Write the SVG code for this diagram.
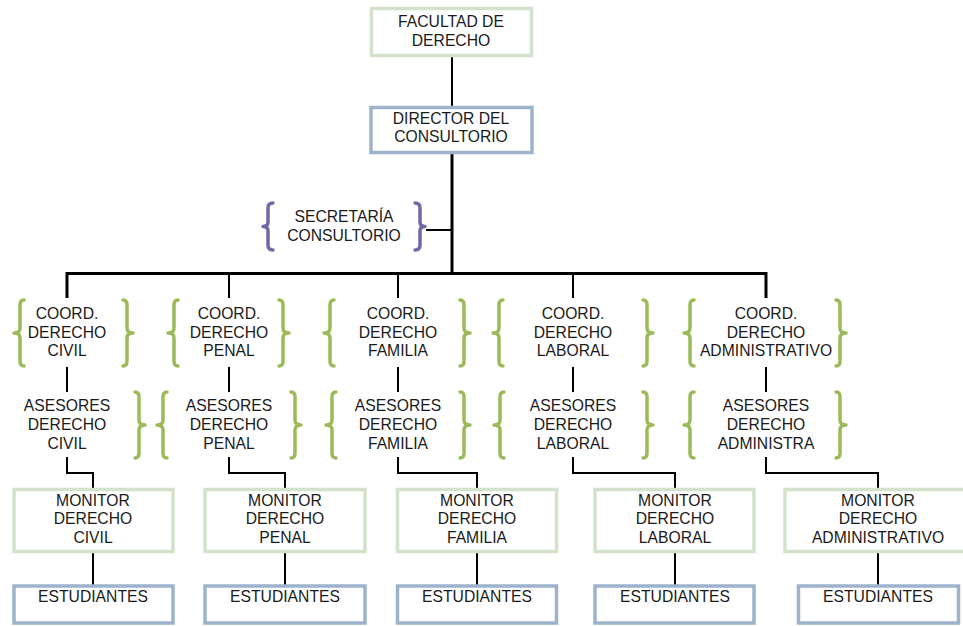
<svg xmlns="http://www.w3.org/2000/svg" xmlns:xlink="http://www.w3.org/1999/xlink" width="963" height="626" viewBox="0 0 963 626">
  <style>
    text { font-family: "Liberation Sans", Arial, sans-serif; font-size: 15.7px; fill: #1a1a1a; text-anchor: middle; }
    .green { fill: #ffffff; stroke: #d5e2cb; stroke-width: 3.5; }
    .blue { fill: #ffffff; stroke: #9db2cd; stroke-width: 3.5; }
    .brace-g { fill: none; stroke: #9bbb59; stroke-width: 3.5; stroke-linecap: round; stroke-linejoin: round; }
    .brace-p { fill: none; stroke: #6f6aa6; stroke-width: 3.5; stroke-linecap: round; stroke-linejoin: round; }
    .link { fill: none; stroke: #000000; stroke-width: 2; }
    .trunk { fill: none; stroke: #000000; stroke-width: 3; }
  </style>
  <defs>
    <!-- curly braces, origin at the tip, 66px tall -->
    <path id="braceL" d="M11,0 Q7,0 7,5 L7,28 Q7,33 1,33 Q7,33 7,38 L7,61 Q7,66 11,66"/>
    <path id="braceR" d="M-11,0 Q-7,0 -7,5 L-7,28 Q-7,33 -1,33 Q-7,33 -7,38 L-7,61 Q-7,66 -11,66"/>
    <!-- shorter braces, 47px tall -->
    <path id="braceLs" d="M11,0 Q6,0 6,5 L6,19 Q6,23.5 1,23.5 Q6,23.5 6,28 L6,42 Q6,47 11,47"/>
    <path id="braceRs" d="M-11,0 Q-6,0 -6,5 L-6,19 Q-6,23.5 -1,23.5 Q-6,23.5 -6,28 L-6,42 Q-6,47 -11,47"/>
  </defs>

  <!-- connectors -->
  <g id="connectors">
    <line class="link" x1="452" y1="55" x2="452" y2="108"/>
    <line class="trunk" x1="452" y1="152" x2="452" y2="275"/>
    <line class="link" x1="426" y1="230" x2="452" y2="230"/>
    <polyline class="trunk" points="67,298 67,273.5 766,273.5 766,298"/>
    <line class="link" x1="229" y1="273" x2="229" y2="298"/>
    <line class="link" x1="398" y1="273" x2="398" y2="298"/>
    <line class="link" x1="573" y1="273" x2="573" y2="298"/>
    <!-- coordinator to advisors -->
    <line class="link" x1="67" y1="367" x2="67" y2="392"/>
    <line class="link" x1="229" y1="367" x2="229" y2="392"/>
    <line class="link" x1="398" y1="367" x2="398" y2="392"/>
    <line class="link" x1="573" y1="367" x2="573" y2="392"/>
    <line class="link" x1="766" y1="367" x2="766" y2="392"/>
    <!-- advisors to monitors -->
    <polyline class="link" points="67,457 67,473 93,473 93,489"/>
    <polyline class="link" points="229,457 229,473 285,473 285,489"/>
    <polyline class="link" points="398,457 398,473 477,473 477,489"/>
    <polyline class="link" points="573,457 573,473 675,473 675,489"/>
    <polyline class="link" points="766,457 766,473 878,473 878,489"/>
    <!-- monitors to students -->
    <line class="link" x1="93" y1="552" x2="93" y2="586"/>
    <line class="link" x1="285" y1="552" x2="285" y2="586"/>
    <line class="link" x1="477" y1="552" x2="477" y2="586"/>
    <line class="link" x1="675" y1="552" x2="675" y2="586"/>
    <line class="link" x1="878" y1="552" x2="878" y2="586"/>
  </g>

  <g id="facultad">
    <rect class="green" x="371.5" y="8.5" width="160" height="47"/>
    <text x="451" y="27">FACULTAD DE</text>
    <text x="451" y="45.5">DERECHO</text>
  </g>

  <g id="director">
    <rect class="blue" x="371" y="107.5" width="161" height="45"/>
    <text x="451" y="123.5">DIRECTOR DEL</text>
    <text x="451" y="142">CONSULTORIO</text>
  </g>

  <g id="secretaria">
    <use xlink:href="#braceLs" class="brace-p" transform="translate(262,203)"/>
    <use xlink:href="#braceRs" class="brace-p" transform="translate(426,203)"/>
    <text x="344" y="222">SECRETARÍA</text>
    <text x="344" y="241">CONSULTORIO</text>
  </g>

  <!-- coordinators -->
  <g id="coord-civil">
    <use xlink:href="#braceL" class="brace-g" transform="translate(13,300)"/>
    <use xlink:href="#braceR" class="brace-g" transform="translate(134,300)"/>
    <text x="67" y="319">COORD.</text>
    <text x="67" y="337.5">DERECHO</text>
    <text x="67" y="356">CIVIL</text>
  </g>
  <g id="coord-penal">
    <use xlink:href="#braceL" class="brace-g" transform="translate(167,300)"/>
    <use xlink:href="#braceR" class="brace-g" transform="translate(290,300)"/>
    <text x="229" y="319">COORD.</text>
    <text x="229" y="337.5">DERECHO</text>
    <text x="229" y="356">PENAL</text>
  </g>
  <g id="coord-familia">
    <use xlink:href="#braceL" class="brace-g" transform="translate(323,300)"/>
    <use xlink:href="#braceR" class="brace-g" transform="translate(471,300)"/>
    <text x="398" y="319">COORD.</text>
    <text x="398" y="337.5">DERECHO</text>
    <text x="398" y="356">FAMILIA</text>
  </g>
  <g id="coord-laboral">
    <use xlink:href="#braceL" class="brace-g" transform="translate(492,300)"/>
    <use xlink:href="#braceR" class="brace-g" transform="translate(654,300)"/>
    <text x="573" y="319">COORD.</text>
    <text x="573" y="337.5">DERECHO</text>
    <text x="573" y="356">LABORAL</text>
  </g>
  <g id="coord-administrativo">
    <use xlink:href="#braceL" class="brace-g" transform="translate(683,300)"/>
    <use xlink:href="#braceR" class="brace-g" transform="translate(847,300)"/>
    <text x="766" y="319">COORD.</text>
    <text x="766" y="337.5">DERECHO</text>
    <text x="766" y="356">ADMINISTRATIVO</text>
  </g>

  <!-- advisors -->
  <g id="asesores-civil">
    <use xlink:href="#braceR" class="brace-g" transform="translate(146,392)"/>
    <text x="67" y="411">ASESORES</text>
    <text x="67" y="430">DERECHO</text>
    <text x="67" y="448.5">CIVIL</text>
  </g>
  <g id="asesores-penal">
    <use xlink:href="#braceL" class="brace-g" transform="translate(156,392)"/>
    <use xlink:href="#braceR" class="brace-g" transform="translate(302,392)"/>
    <text x="229" y="411">ASESORES</text>
    <text x="229" y="430">DERECHO</text>
    <text x="229" y="448.5">PENAL</text>
  </g>
  <g id="asesores-familia">
    <use xlink:href="#braceL" class="brace-g" transform="translate(325,392)"/>
    <use xlink:href="#braceR" class="brace-g" transform="translate(471,392)"/>
    <text x="398" y="411">ASESORES</text>
    <text x="398" y="430">DERECHO</text>
    <text x="398" y="448.5">FAMILIA</text>
  </g>
  <g id="asesores-laboral">
    <use xlink:href="#braceL" class="brace-g" transform="translate(493,392)"/>
    <use xlink:href="#braceR" class="brace-g" transform="translate(654,392)"/>
    <text x="573" y="411">ASESORES</text>
    <text x="573" y="430">DERECHO</text>
    <text x="573" y="448.5">LABORAL</text>
  </g>
  <g id="asesores-administrativo">
    <use xlink:href="#braceL" class="brace-g" transform="translate(683,392)"/>
    <use xlink:href="#braceR" class="brace-g" transform="translate(847,392)"/>
    <text x="766" y="411">ASESORES</text>
    <text x="766" y="430">DERECHO</text>
    <text x="766" y="448.5">ADMINISTRA</text>
  </g>

  <!-- monitors -->
  <g id="monitor-civil">
    <rect class="green" x="14" y="489.5" width="159" height="62"/>
    <text x="93" y="506">MONITOR</text>
    <text x="93" y="524">DERECHO</text>
    <text x="93" y="543">CIVIL</text>
  </g>
  <g id="monitor-penal">
    <rect class="green" x="205" y="489.5" width="160" height="62"/>
    <text x="285" y="506">MONITOR</text>
    <text x="285" y="524">DERECHO</text>
    <text x="285" y="543">PENAL</text>
  </g>
  <g id="monitor-familia">
    <rect class="green" x="397.5" y="489.5" width="159" height="62"/>
    <text x="477" y="506">MONITOR</text>
    <text x="477" y="524">DERECHO</text>
    <text x="477" y="543">FAMILIA</text>
  </g>
  <g id="monitor-laboral">
    <rect class="green" x="595" y="489.5" width="159" height="62"/>
    <text x="675" y="506">MONITOR</text>
    <text x="675" y="524">DERECHO</text>
    <text x="675" y="543">LABORAL</text>
  </g>
  <g id="monitor-administrativo">
    <rect class="green" x="785" y="489.5" width="186" height="62"/>
    <text x="878" y="506">MONITOR</text>
    <text x="878" y="524">DERECHO</text>
    <text x="878" y="543">ADMINISTRATIVO</text>
  </g>

  <!-- students -->
  <g id="estudiantes-civil">
    <rect class="blue" x="14" y="586" width="159" height="37"/>
    <text x="93" y="602">ESTUDIANTES</text>
  </g>
  <g id="estudiantes-penal">
    <rect class="blue" x="205" y="586" width="160" height="37"/>
    <text x="285" y="602">ESTUDIANTES</text>
  </g>
  <g id="estudiantes-familia">
    <rect class="blue" x="397.5" y="586" width="159" height="37"/>
    <text x="477" y="602">ESTUDIANTES</text>
  </g>
  <g id="estudiantes-laboral">
    <rect class="blue" x="595" y="586" width="159" height="37"/>
    <text x="675" y="602">ESTUDIANTES</text>
  </g>
  <g id="estudiantes-administrativo">
    <rect class="blue" x="798.5" y="586" width="160" height="37"/>
    <text x="878" y="602">ESTUDIANTES</text>
  </g>
</svg>
